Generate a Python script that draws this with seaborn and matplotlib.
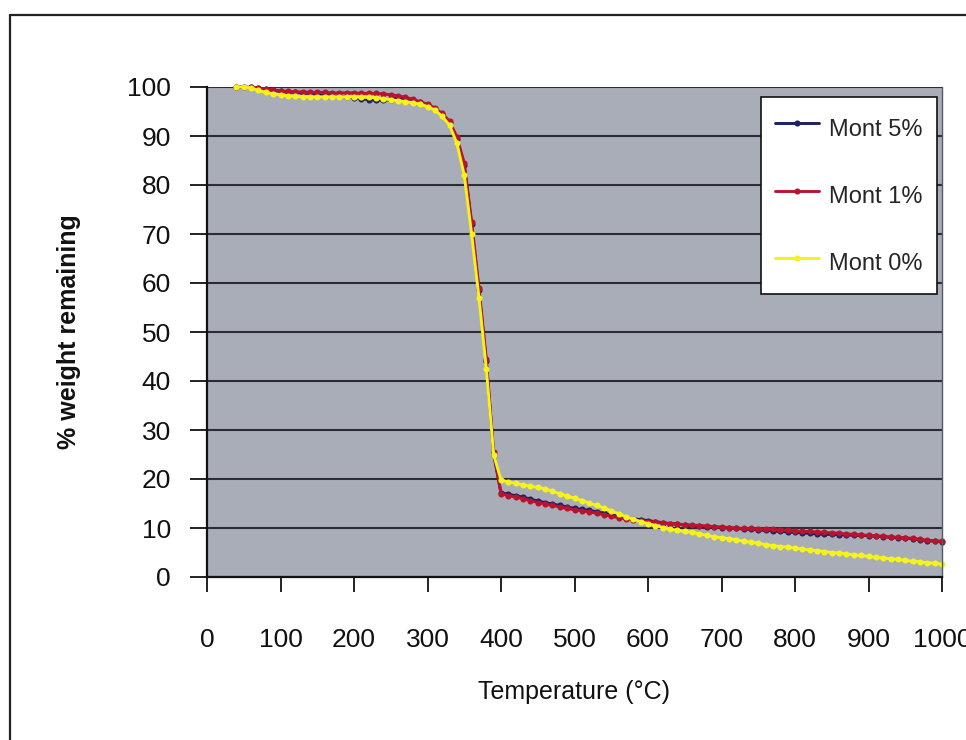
import matplotlib
matplotlib.use("Agg")
import matplotlib.pyplot as plt
import seaborn as sns
from matplotlib.lines import Line2D

# ---------------- data ----------------
temperature = list(range(40, 1001, 10))

mont_5 = [
    100.0, 100.0, 99.9, 99.7, 99.5, 99.3, 99.1, 99.0, 98.9, 98.8,
    98.7, 98.5, 98.3, 98.2, 98.1, 98.0, 97.8, 97.6, 97.4, 97.3,
    97.3, 97.4, 97.8, 97.7, 97.3, 96.9, 96.4, 95.6, 94.4, 92.6,
    89.4, 84.0, 72.0, 58.5, 44.0, 25.0, 17.2, 16.9, 16.6, 16.3,
    15.9, 15.5, 15.2, 14.9, 14.6, 14.3, 14.0, 13.8, 13.6, 13.3,
    13.0, 12.7, 12.4, 12.1, 11.9, 11.7, 11.5, 11.3, 11.1, 10.9,
    10.8, 10.6, 10.5, 10.4, 10.3, 10.2, 10.1, 10.0, 9.9, 9.8,
    9.7, 9.6, 9.5, 9.4, 9.3, 9.2, 9.1, 9.0, 8.9, 8.8,
    8.7, 8.7, 8.6, 8.6, 8.5, 8.5, 8.4, 8.3, 8.2, 8.1,
    8.0, 7.9, 7.8, 7.6, 7.4, 7.3, 7.2,
]

mont_1 = [
    100.0, 100.0, 99.9, 99.8, 99.6, 99.4, 99.2, 99.1, 99.0, 99.0,
    98.9, 98.9, 98.9, 98.8, 98.8, 98.8, 98.8, 98.7, 98.7, 98.7,
    98.6, 98.4, 98.2, 97.9, 97.5, 97.0, 96.5, 95.7, 94.6, 93.0,
    89.8, 84.5, 72.5, 59.0, 44.5, 25.5, 17.0, 16.6, 16.3, 16.0,
    15.6, 15.2, 14.9, 14.6, 14.3, 14.0, 13.7, 13.5, 13.3, 13.0,
    12.7, 12.4, 12.1, 11.9, 11.7, 11.5, 11.3, 11.2, 11.0, 10.9,
    10.8, 10.7, 10.6, 10.5, 10.4, 10.3, 10.2, 10.1, 10.0, 9.9,
    9.9, 9.8, 9.8, 9.7, 9.6, 9.5, 9.4, 9.3, 9.3, 9.2,
    9.1, 9.0, 8.9, 8.8, 8.7, 8.6, 8.5, 8.4, 8.3, 8.2,
    8.1, 8.0, 7.9, 7.7, 7.5, 7.4, 7.3,
]

mont_0 = [
    100.0, 100.0, 99.8, 99.3, 98.9, 98.6, 98.4, 98.2, 98.1, 98.0,
    98.0, 98.0, 98.0, 98.0, 98.0, 98.0, 98.0, 97.9, 97.9, 97.8,
    97.6, 97.4, 97.2, 97.0, 96.8, 96.5, 96.0, 95.3, 94.0, 92.2,
    88.5, 82.0, 70.0, 57.0, 42.5, 25.0, 19.8, 19.4, 19.1, 18.8,
    18.5, 18.3, 18.0, 17.5, 17.0, 16.5, 16.1, 15.6, 15.1, 14.6,
    14.1, 13.5, 12.9, 12.3, 11.8, 11.3, 10.9, 10.5, 10.1, 9.8,
    9.5, 9.3, 9.1, 8.8, 8.5, 8.2, 8.0, 7.8, 7.6, 7.3,
    7.1, 6.9, 6.6, 6.4, 6.2, 6.1, 5.9, 5.7, 5.5, 5.4,
    5.2, 5.0, 4.9, 4.7, 4.5, 4.4, 4.2, 4.0, 3.9, 3.7,
    3.6, 3.4, 3.2, 3.1, 2.9, 2.8, 2.6,
]

series_labels = ["Mont 5%", "Mont 1%", "Mont 0%"]
series_colors = ["#1c2160", "#b8142e", "#f4f41c"]
x_ticks = list(range(0, 1001, 100))
y_ticks = list(range(0, 101, 10))
x_label = "Temperature (\u00b0C)"
y_label = "% weight remaining"

# ---------------- style ----------------
sns.set_style("white")
plt.rcParams["font.family"] = ["Liberation Sans", "DejaVu Sans"]

W, H = 966, 740
fig = plt.figure(figsize=(W / 100, H / 100), dpi=100)
fig.patch.set_facecolor("white")

left, right, top, bottom = 207, 942, 87, 577
ax = fig.add_axes([left / W, (H - bottom) / H, (right - left) / W, (bottom - top) / H])
ax.set_facecolor("#a8adb8")

# outer frame of the figure (left and top edges visible)
fig.add_artist(Line2D([10 / W, 10 / W], [0, (H - 15) / H], transform=fig.transFigure,
                      color="#222222", lw=1.6))
fig.add_artist(Line2D([10 / W, 1], [(H - 15) / H, (H - 15) / H], transform=fig.transFigure,
                      color="#222222", lw=1.6))

for vals, lab, col in zip([mont_5, mont_1, mont_0], series_labels, series_colors):
    sns.lineplot(x=temperature, y=vals, ax=ax, color=col, label=lab,
                 marker="o", markersize=4.4, markeredgewidth=0,
                 linewidth=2.1, errorbar=None, clip_on=False)

ax.set_xlim(0, 1000)
ax.set_ylim(0, 100)
ax.set_xticks(x_ticks)
ax.set_yticks(y_ticks)
ax.set_xticklabels([str(t) for t in x_ticks])
ax.set_yticklabels([str(t) for t in y_ticks])

ax.yaxis.grid(True, color="#2b2d36", linewidth=1.5)
ax.xaxis.grid(False)
ax.set_axisbelow(True)

for side in ["left", "bottom"]:
    ax.spines[side].set_color("#111111")
    ax.spines[side].set_linewidth(1.6)
ax.spines["top"].set_visible(False)
ax.spines["right"].set_color("#555a66")
ax.spines["right"].set_linewidth(1.0)

ax.tick_params(axis="y", direction="out", length=12, width=1.4, color="#222222",
               labelsize=19, pad=14, labelcolor="#111111", left=True)
ax.tick_params(axis="x", direction="out", length=11, width=1.4, color="#222222",
               labelsize=19, pad=26, labelcolor="#111111", bottom=True)

ax.set_xlabel(x_label, fontsize=18, color="#111111", labelpad=20)
ax.set_ylabel(y_label, fontsize=18, fontweight="bold", color="#111111", labelpad=33)

leg = ax.legend(loc="upper right", bbox_to_anchor=(0.9932, 0.9796), frameon=True,
                fancybox=False, edgecolor="#111111", framealpha=1, facecolor="white",
                fontsize=17, labelspacing=1.4, handlelength=1.85, handleheight=1.85,
                handletextpad=0.45, borderpad=0.6, borderaxespad=0)
leg.get_frame().set_linewidth(1.2)

fig.savefig("out.png", dpi=100)
